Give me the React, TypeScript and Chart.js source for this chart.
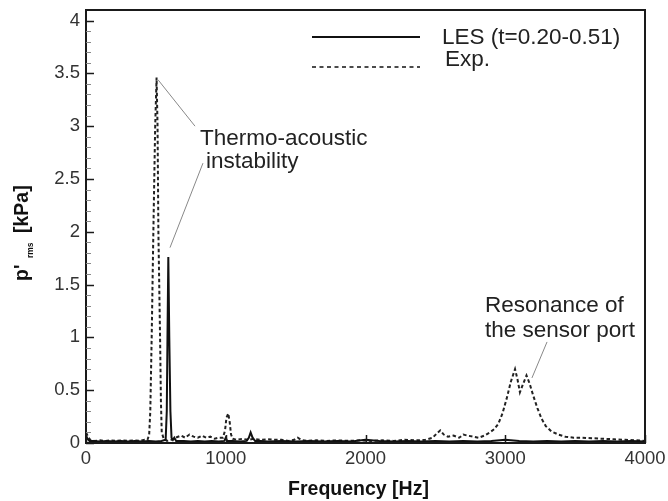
import React, { useEffect, useRef } from "react";
import { Chart, registerables } from "chart.js";

Chart.register(...registerables);

// ---- Data (frequency in Hz, p'rms in kPa) ----
const lesFreq = [
  0, 10, 25, 50, 100, 150, 200, 250, 300, 350,
  400, 450, 500, 540, 570, 578, 583, 589, 596, 604,
  612, 622, 632, 645, 700, 750, 800, 850, 900, 950,
  990, 1000, 1010, 1050, 1100, 1150, 1165, 1178, 1192, 1210,
  1250, 1300, 1400, 1500, 1600, 1700, 1800, 1900, 2000, 2100,
  2200, 2300, 2400, 2500, 2600, 2700, 2800, 2900, 3000, 3100,
  3200, 3300, 3400, 3500, 3600, 3700, 3800, 3900, 4000,
];
const lesPrms = [
  0.07, 0.04, 0.02, 0.02, 0.015, 0.02, 0.015, 0.02, 0.015, 0.02,
  0.015, 0.02, 0.015, 0.02, 0.03, 0.3, 1.0, 1.76, 1.0, 0.3,
  0.05, 0.03, 0.05, 0.02, 0.02, 0.015, 0.02, 0.015, 0.02, 0.015,
  0.02, 0.05, 0.02, 0.02, 0.015, 0.02, 0.05, 0.1, 0.05, 0.02,
  0.02, 0.015, 0.02, 0.015, 0.02, 0.015, 0.02, 0.015, 0.03, 0.02,
  0.015, 0.02, 0.015, 0.02, 0.015, 0.02, 0.015, 0.02, 0.03, 0.02,
  0.015, 0.02, 0.015, 0.02, 0.015, 0.02, 0.015, 0.02, 0.015,
];

const expFreq = [
  0, 15, 30, 60, 100, 140, 180, 220, 260, 300,
  340, 380, 420, 440, 452, 460, 470, 482, 495, 505,
  512, 518, 524, 530, 536, 542, 556, 580, 610, 640,
  680, 710, 740, 770, 800, 830, 860, 890, 920, 950,
  980, 995, 1005, 1018, 1028, 1038, 1050, 1080, 1120, 1160,
  1200, 1250, 1300, 1350, 1400, 1450, 1490, 1515, 1540, 1580,
  1650, 1720, 1800, 1880, 1960, 2040, 2120, 2200, 2280, 2360,
  2430, 2480, 2510, 2535, 2560, 2590, 2630, 2670, 2700, 2730,
  2770, 2810, 2850, 2890, 2920, 2950, 2980, 3010, 3040, 3070,
  3088, 3105, 3125, 3152, 3175, 3200, 3230, 3260, 3290, 3330,
  3380, 3430, 3490, 3550, 3620, 3700, 3780, 3860, 3940, 4000,
];
const expPrms = [
  0.1, 0.06, 0.03, 0.02, 0.025, 0.02, 0.025, 0.02, 0.025, 0.02,
  0.025, 0.02, 0.03, 0.03, 0.08, 0.3, 1.0, 2.0, 3.0, 3.46,
  3.0, 2.0, 1.5, 1.0, 0.4, 0.1, 0.04, 0.02, 0.03, 0.05,
  0.07, 0.05, 0.08, 0.06, 0.05, 0.07, 0.05, 0.06, 0.04, 0.05,
  0.05, 0.12, 0.24, 0.28, 0.2, 0.08, 0.04, 0.03, 0.04, 0.03,
  0.04, 0.03, 0.035, 0.03, 0.03, 0.02, 0.03, 0.05, 0.03, 0.02,
  0.025, 0.02, 0.025, 0.02, 0.025, 0.02, 0.025, 0.02, 0.03, 0.025,
  0.03, 0.05, 0.09, 0.12, 0.08, 0.06, 0.07, 0.05, 0.08, 0.07,
  0.06, 0.05, 0.07, 0.1, 0.13, 0.18, 0.28, 0.42, 0.58, 0.7,
  0.6, 0.48, 0.55, 0.64, 0.56, 0.45, 0.33, 0.23, 0.16, 0.11,
  0.08, 0.06, 0.05, 0.05, 0.045, 0.04, 0.035, 0.03, 0.025, 0.02,
];

const xMajorTicks = [0, 1000, 2000, 3000, 4000];
const yMajorTicks = [0, 0.5, 1, 1.5, 2, 2.5, 3, 3.5, 4];

const seriesLabels = ["LES (t=0.20-0.51)", "Exp."];

// annotation texts anchored in data units [freq, p'rms]
const annoTexts: { text: string; at: [number, number] }[] = [
  { text: "Thermo-acoustic", at: [816, 2.825] },
  { text: "instability", at: [859, 2.607] },
  { text: "Resonance of", at: [2855, 1.242] },
  { text: "the sensor port", at: [2855, 1.005] },
];
const annoLeaders: [number, number][][] = [
  [[515, 3.44], [780, 3.0]],
  [[837, 2.65], [601, 1.85]],
  [[3299, 0.957], [3191, 0.616]],
];

const FONT = '"Liberation Sans", Arial, Helvetica, sans-serif';

const decorPlugin = {
  id: "decor",
  afterDraw(chart: any) {
    const { ctx, chartArea: a, scales } = chart;
    const xs = scales.x;
    const ys = scales.y;
    const px = (f: number) => xs.getPixelForValue(f);
    const py = (v: number) => ys.getPixelForValue(v);
    ctx.save();

    // frame
    ctx.strokeStyle = "#1a1a1a";
    ctx.lineWidth = 2;
    ctx.setLineDash([]);
    ctx.strokeRect(a.left, a.top, a.right - a.left, a.bottom - a.top);

    // y minor ticks
    ctx.strokeStyle = "#888";
    ctx.lineWidth = 1;
    for (let i = 1; i <= 40; i++) {
      if (i % 5 === 0) continue;
      const yy = Math.round(py(i / 10)) + 0.5;
      ctx.beginPath();
      ctx.moveTo(a.left, yy);
      ctx.lineTo(a.left + 5, yy);
      ctx.stroke();
    }
    // y major ticks
    ctx.strokeStyle = "#1a1a1a";
    ctx.lineWidth = 1.5;
    yMajorTicks.forEach((v) => {
      const yy = Math.round(py(v)) + 0.5;
      ctx.beginPath();
      ctx.moveTo(a.left, yy);
      ctx.lineTo(a.left + 8, yy);
      ctx.stroke();
    });
    // x major ticks
    xMajorTicks.forEach((f) => {
      const xx = Math.round(px(f)) + 0.5;
      ctx.beginPath();
      ctx.moveTo(xx, a.bottom);
      ctx.lineTo(xx, a.bottom - 8);
      ctx.stroke();
    });

    // leader lines
    ctx.strokeStyle = "#888";
    ctx.lineWidth = 1;
    annoLeaders.forEach(([p0, p1]) => {
      ctx.beginPath();
      ctx.moveTo(px(p0[0]), py(p0[1]));
      ctx.lineTo(px(p1[0]), py(p1[1]));
      ctx.stroke();
    });

    // annotation text
    ctx.fillStyle = "#222";
    ctx.font = `22.5px ${FONT}`;
    ctx.textAlign = "left";
    ctx.textBaseline = "alphabetic";
    annoTexts.forEach((t) => {
      ctx.fillText(t.text, px(t.at[0]), py(t.at[1]));
    });

    // legend
    const lx0 = a.left + 226;
    const lx1 = a.left + 334;
    const ly1 = a.top + 27;
    const ly2 = a.top + 57;
    ctx.strokeStyle = "#111";
    ctx.lineWidth = 2;
    ctx.beginPath();
    ctx.moveTo(lx0, ly1);
    ctx.lineTo(lx1, ly1);
    ctx.stroke();
    ctx.lineWidth = 1.5;
    ctx.setLineDash([4, 3.5]);
    ctx.beginPath();
    ctx.moveTo(lx0, ly2);
    ctx.lineTo(lx1, ly2);
    ctx.stroke();
    ctx.setLineDash([]);
    ctx.fillStyle = "#222";
    ctx.fillText(seriesLabels[0], a.left + 356, a.top + 33.5);
    ctx.fillText(seriesLabels[1], a.left + 359, a.top + 55.5);

    // x title
    ctx.fillStyle = "#111";
    ctx.font = `bold 19.5px ${FONT}`;
    ctx.textAlign = "center";
    ctx.fillText("Frequency [Hz]", (a.left + a.right) / 2 - 7, a.bottom + 52);

    // y title with subscript
    ctx.save();
    ctx.translate(a.left - 58, (a.top + a.bottom) / 2 + 54.5);
    ctx.rotate(-Math.PI / 2);
    ctx.textAlign = "left";
    ctx.font = `bold 19.5px ${FONT}`;
    ctx.fillText("p'", 0, 0);
    ctx.font = `bold 8.5px ${FONT}`;
    ctx.fillText("rms", 23, 5);
    ctx.font = `bold 19.5px ${FONT}`;
    ctx.fillText("[kPa]", 48, 0);
    ctx.restore();

    ctx.restore();
  },
};

export default function App() {
  const ref = useRef<HTMLCanvasElement>(null);
  useEffect(() => {
    const canvas = ref.current;
    if (!canvas) return;
    const chart = new Chart(canvas, {
      type: "line",
      data: {
        datasets: [
          {
            label: seriesLabels[0],
            data: lesFreq.map((f, i) => ({ x: f, y: lesPrms[i] })),
            borderColor: "#111",
            borderWidth: 2,
            pointRadius: 0,
            tension: 0,
            fill: false,
          },
          {
            label: seriesLabels[1],
            data: expFreq.map((f, i) => ({ x: f, y: expPrms[i] })),
            borderColor: "#222",
            borderWidth: 2,
            borderDash: [3.5, 2.5],
            pointRadius: 0,
            tension: 0,
            fill: false,
          },
        ],
      },
      options: {
        responsive: false,
        animation: false,
        layout: { padding: { top: 10, right: 23, left: 0, bottom: 0 } },
        plugins: { legend: { display: false }, tooltip: { enabled: false } },
        scales: {
          x: {
            type: "linear",
            min: 0,
            max: 4000,
            grid: { display: false, drawTicks: false },
            border: { display: false },
            ticks: {
              stepSize: 1000,
              autoSkip: false,
              maxRotation: 0,
              padding: 5,
              color: "#333",
              font: { family: FONT, size: 18.5 },
              callback: (v: any) => String(v),
            },
            afterFit: (s: any) => {
              s.height = 58;
              s.paddingLeft = 0;
              s.paddingRight = 0;
            },
          },
          y: {
            type: "linear",
            min: 0,
            max: 4.1,
            grid: { display: false, drawTicks: false },
            border: { display: false },
            ticks: {
              stepSize: 0.5,
              includeBounds: false,
              padding: 6,
              color: "#333",
              font: { family: FONT, size: 18.5 },
              callback: (v: any) => String(Number(v)),
            },
            afterFit: (s: any) => {
              s.width = 86;
              s.paddingTop = 0;
              s.paddingBottom = 0;
            },
          },
        },
      },
      plugins: [decorPlugin],
    });
    return () => chart.destroy();
  }, []);
  return (
    <div style={{ position: "fixed", left: 0, top: 0, width: 668, height: 501, background: "#fff" }}>
      <canvas ref={ref} width={668} height={501} style={{ display: "block" }} />
    </div>
  );
}
